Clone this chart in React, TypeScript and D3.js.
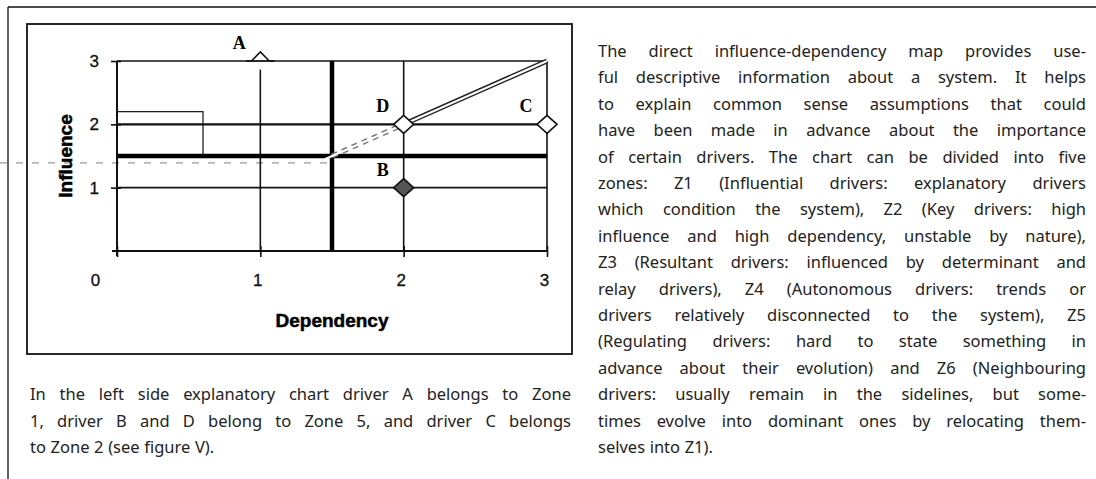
import * as d3 from 'd3';
import { useEffect, useRef } from 'react';

// drivers on the influence / dependency map
const DRIVERS = ['A', 'B', 'C', 'D'];
const DEPENDENCY = [1, 2, 3, 2];
const INFLUENCE = [3, 1, 2, 2];
const FILLED = [false, true, false, false];

const X_TICKS = [0, 1, 2, 3];
const Y_TICKS = [1, 2, 3];
const THRESHOLD = 1.5;
const DIAG_DASHED = [1.5, 2];
const DIAG_SOLID = [2, 3];
const RECT_DEP = [0, 0.6];
const RECT_INF = [1.5, 2.2];
const GUIDE_INF = 1.39;

const RIGHT_LINES = [
  'The direct influence-dependency map provides use-',
  'ful descriptive information about a system. It helps',
  'to explain common sense assumptions that could',
  'have been made in advance about the importance',
  'of certain drivers. The chart can be divided into five',
  'zones: Z1 (Influential drivers: explanatory drivers',
  'which condition the system), Z2 (Key drivers: high',
  'influence and high dependency, unstable by nature),',
  'Z3 (Resultant drivers: influenced by determinant and',
  'relay drivers), Z4 (Autonomous drivers: trends or',
  'drivers relatively disconnected to the system), Z5',
  '(Regulating drivers: hard to state something in',
  'advance about their evolution) and Z6 (Neighbouring',
  'drivers: usually remain in the sidelines, but some-',
  'times evolve into dominant ones by relocating them-',
  'selves into Z1).',
];

const LEFT_LINES = [
  'In the left side explanatory chart driver A belongs to Zone',
  '1, driver B and D belong to Zone 5, and driver C belongs',
  'to Zone 2 (see figure V).',
];

const W = 1096;
const H = 479;
const BODY_FONT = "'Noto Sans', 'Open Sans', sans-serif";
const CHART_FONT = "'Liberation Sans', Arial, sans-serif";

const App = () => {
  const svgRef = useRef(null);

  useEffect(() => {
    document.body.style.margin = '0';
    const svg = d3.select(svgRef.current);
    svg.selectAll('*').remove();

    svg.append('rect').attr('width', W).attr('height', H).attr('fill', '#fff');

    // page frame
    svg.append('line').attr('x1', 8).attr('y1', 7).attr('x2', W).attr('y2', 7)
      .attr('stroke', '#111').attr('stroke-width', 1.3);
    svg.append('line').attr('x1', 8).attr('y1', 7).attr('x2', 8).attr('y2', H)
      .attr('stroke', '#111').attr('stroke-width', 1.3);

    // chart area border
    svg.append('rect').attr('x', 27).attr('y', 24).attr('width', 545).attr('height', 330)
      .attr('fill', 'none').attr('stroke', '#111').attr('stroke-width', 1.8);

    const x = d3.scaleLinear([0, 3], [117, 547]);
    const y = d3.scaleLinear([0, 3], [251, 61]);

    // faint guide line that runs off the chart
    svg.append('line')
      .attr('x1', 0).attr('x2', x(THRESHOLD))
      .attr('y1', y(GUIDE_INF)).attr('y2', y(GUIDE_INF))
      .attr('stroke', '#999').attr('stroke-width', 1.2).attr('stroke-dasharray', '7,9');

    // grid
    Y_TICKS.forEach((v) => {
      svg.append('line')
        .attr('x1', x(0)).attr('x2', x(3)).attr('y1', y(v)).attr('y2', y(v))
        .attr('stroke', '#111').attr('stroke-width', v === 2 ? 2.2 : 1.6);
    });
    X_TICKS.slice(1).forEach((v) => {
      svg.append('line')
        .attr('x1', x(v)).attr('x2', x(v)).attr('y1', y(0)).attr('y2', y(3))
        .attr('stroke', '#111').attr('stroke-width', 1.6);
    });

    // small box
    svg.append('rect')
      .attr('x', x(RECT_DEP[0])).attr('y', y(RECT_INF[1]))
      .attr('width', x(RECT_DEP[1]) - x(RECT_DEP[0]))
      .attr('height', y(RECT_INF[0]) - y(RECT_INF[1]))
      .attr('fill', 'none').attr('stroke', '#111').attr('stroke-width', 1.2);

    // thresholds
    svg.append('line')
      .attr('x1', x(0)).attr('x2', x(3)).attr('y1', y(THRESHOLD)).attr('y2', y(THRESHOLD))
      .attr('stroke', '#000').attr('stroke-width', 4.5);
    svg.append('line')
      .attr('x1', x(THRESHOLD)).attr('x2', x(THRESHOLD)).attr('y1', y(0) + 1).attr('y2', y(3))
      .attr('stroke', '#000').attr('stroke-width', 4.5);

    // axes
    const xAxis = svg.append('g')
      .attr('transform', `translate(0,${y(0)})`)
      .call(d3.axisBottom(x).tickValues(X_TICKS).tickSize(6).tickPadding(17).tickFormat(d3.format('d')));
    xAxis.select('.domain').remove();
    xAxis.selectAll('.tick line').attr('y1', -5).attr('stroke', '#111').attr('stroke-width', 1.6);
    xAxis.selectAll('.tick text')
      .attr('font-family', CHART_FONT).attr('font-size', 17).attr('fill', '#111')
      .attr('stroke', '#111').attr('stroke-width', 0.3)
      .attr('x', (d) => (d === 0 ? -22 : -3));
    svg.append('line').attr('x1', x(0) - 5).attr('x2', x(3)).attr('y1', y(0)).attr('y2', y(0))
      .attr('stroke', '#111').attr('stroke-width', 2);

    const yAxis = svg.append('g')
      .attr('transform', `translate(${x(0)},0)`)
      .call(d3.axisLeft(y).tickValues(Y_TICKS).tickSize(6).tickPadding(12).tickFormat(d3.format('d')));
    yAxis.select('.domain').remove();
    yAxis.selectAll('.tick line').attr('x1', 4).attr('stroke', '#111').attr('stroke-width', 1.6);
    yAxis.selectAll('.tick text')
      .attr('font-family', CHART_FONT).attr('font-size', 17).attr('fill', '#111')
      .attr('stroke', '#111').attr('stroke-width', 0.3);
    svg.append('line').attr('x1', x(0)).attr('x2', x(0)).attr('y1', y(0) + 5).attr('y2', y(3))
      .attr('stroke', '#111').attr('stroke-width', 2);

    // axis titles
    svg.append('text')
      .attr('x', x(1.5)).attr('y', 327).attr('text-anchor', 'middle')
      .attr('font-family', CHART_FONT).attr('font-weight', 'bold').attr('font-size', 19)
      .attr('stroke', '#000').attr('stroke-width', 0.5).attr('fill', '#000')
      .text('Dependency');
    svg.append('text')
      .attr('transform', `translate(72,${y(1.5)}) rotate(-90)`).attr('text-anchor', 'middle')
      .attr('font-family', CHART_FONT).attr('font-weight', 'bold').attr('font-size', 19)
      .attr('stroke', '#000').attr('stroke-width', 0.5).attr('fill', '#000')
      .text('Influence');

    // diagonal: dashed part then double line
    const line = d3.line().x((d) => x(d)).y((d) => y(d));
    svg.append('path').attr('d', line(DIAG_DASHED)).attr('fill', 'none')
      .attr('stroke', '#777').attr('stroke-width', 5).attr('stroke-dasharray', '6,5');
    svg.append('path').attr('d', line(DIAG_SOLID)).attr('fill', 'none')
      .attr('stroke', '#222').attr('stroke-width', 5);
    svg.append('path').attr('d', line([DIAG_DASHED[0] - 0.05, DIAG_SOLID[1]])).attr('fill', 'none')
      .attr('stroke', '#fff').attr('stroke-width', 2.2);

    // driver markers
    const diamond = 'M0,-9L10,0L0,9L-10,0Z';
    DRIVERS.forEach((name, i) => {
      const cx = x(DEPENDENCY[i]);
      const cy = y(INFLUENCE[i]);
      const g = svg.append('g').attr('transform', `translate(${cx},${cy})`);
      if (INFLUENCE[i] === 3) {
        // marker clipped by the top edge: only the upper half is outlined
        g.append('path').attr('d', diamond).attr('fill', '#fff');
        g.append('path').attr('d', 'M-9,0L0,-9L9,0').attr('fill', 'none')
          .attr('stroke', '#111').attr('stroke-width', 1.6);
        g.append('line').attr('x1', -14).attr('x2', 14).attr('stroke', '#111').attr('stroke-width', 1.8);
      } else {
        g.append('path').attr('d', diamond)
          .attr('fill', FILLED[i] ? '#555' : '#fff')
          .attr('stroke', '#111').attr('stroke-width', 1.6);
      }
      svg.append('text')
        .attr('x', cx - 21).attr('y', cy - 12)
        .attr('text-anchor', 'middle')
        .attr('font-family', "'Liberation Serif', 'Times New Roman', serif")
        .attr('font-weight', 'bold').attr('font-size', 18).attr('fill', '#000')
        .text(name);
    });

    // justified paragraphs
    const setText = (lines, x0, x1, top, step) => {
      lines.forEach((ln, i) => {
        const words = ln.split(' ');
        const g = svg.append('g');
        const nodes = words.map((w) =>
          g.append('text')
            .attr('y', top + i * step)
            .attr('font-family', BODY_FONT).attr('font-size', 16.5).attr('fill', '#222')
            .text(w));
        const widths = nodes.map((n) => n.node().getComputedTextLength());
        const total = d3.sum(widths);
        const last = i === lines.length - 1;
        const gap = last || words.length < 2 ? 4.6 : (x1 - x0 - total) / (words.length - 1);
        let cx = x0;
        nodes.forEach((n, k) => {
          n.attr('x', cx);
          cx += widths[k] + gap;
        });
      });
    };
    const step = 26.4;
    setText(RIGHT_LINES, 598, 1086, 57, step);
    setText(LEFT_LINES, 30, 571, 57 + 13 * step, step);
  }, []);

  return <svg ref={svgRef} width={W} height={H} style={{ display: 'block' }} />;
};

export default App;
